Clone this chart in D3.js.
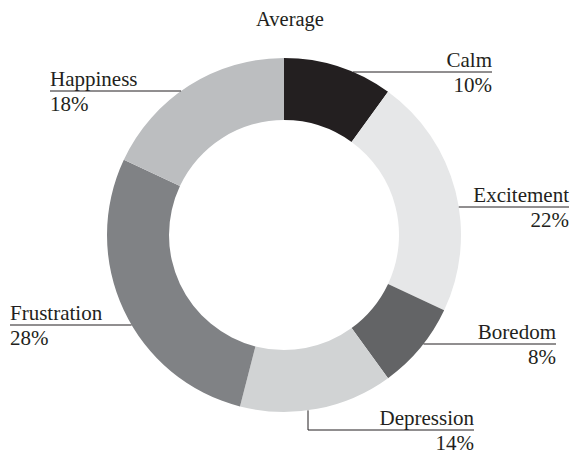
<!DOCTYPE html>
<html>
 <head>
  <title>Average</title>
  <script src="https://cdnjs.cloudflare.com/ajax/libs/d3/7.8.3/d3.min.js"></script>
  <style>
   body { margin: 0; background: #fff; }
   text { font-family: "Liberation Serif", "Times New Roman", serif; fill: #231f20; }
  </style>
 </head>
 <body>
  <script>
   const categories = ["Calm", "Excitement", "Boredom", "Depression", "Frustration", "Happiness"];
   const values = [10, 22, 8, 14, 28, 18];
   const colors = ["#231f20", "#e6e7e8", "#636466", "#d1d3d4", "#808285", "#bcbec0"];

   // where each label's leader line ends (layout only)
   const labelPos = [
    {x: 492, y: 72, side: "right"},
    {x: 569, y: 207, side: "right"},
    {x: 556, y: 344, side: "right"},
    {x: 474, y: 430, side: "right", elbow: 308},
    {x: 10, y: 325, side: "left"},
    {x: 50, y: 91, side: "left"}
   ];

   const w = 571, h = 454;
   const cx = 284, cy = 235;
   const outer = 177, inner = 115;

   const svg = d3.select("body")
                 .append("svg")
                 .attr("width", w)
                 .attr("height", h);

   svg.append("text")
      .attr("x", 290)
      .attr("y", 26)
      .attr("text-anchor", "middle")
      .style("font-size", "20.5px")
      .text("Average");

   const data = categories.map((c, i) => ({name: c, value: values[i], color: colors[i], pos: labelPos[i]}));

   const pie = d3.pie()
                 .value(d => d.value)
                 .sort(null);
   const arc = d3.arc()
                 .innerRadius(inner)
                 .outerRadius(outer);

   const g = svg.append("g")
                .attr("transform", "translate(" + cx + "," + cy + ")");
   g.selectAll("path")
    .data(pie(data))
    .enter()
    .append("path")
    .attr("d", arc)
    .attr("fill", d => d.data.color);

   // leader lines
   data.forEach(d => {
    const p = d.pos;
    let pts;
    if (p.elbow !== undefined) {
     const dx = p.elbow - cx;
     const yEdge = cy + Math.sqrt(outer * outer - dx * dx);
     pts = [[p.elbow, yEdge], [p.elbow, p.y], [p.x, p.y]];
    } else {
     const dy = p.y - cy;
     const dx = Math.sqrt(outer * outer - dy * dy);
     const xEdge = p.side == "right" ? cx + dx : cx - dx;
     pts = [[xEdge, p.y], [p.x, p.y]];
    }
    svg.append("path")
       .attr("d", d3.line()(pts))
       .attr("fill", "none")
       .attr("stroke", "#231f20")
       .attr("stroke-width", 1);

    const anchor = p.side == "right" ? "end" : "start";
    svg.append("text")
       .attr("x", p.x)
       .attr("y", p.y - 5)
       .attr("text-anchor", anchor)
       .style("font-size", "21px")
       .text(d.name);
    svg.append("text")
       .attr("x", p.x)
       .attr("y", p.y + 20)
       .attr("text-anchor", anchor)
       .style("font-size", "21px")
       .text(d.value + "%");
   });
  </script>
 </body>
</html>
